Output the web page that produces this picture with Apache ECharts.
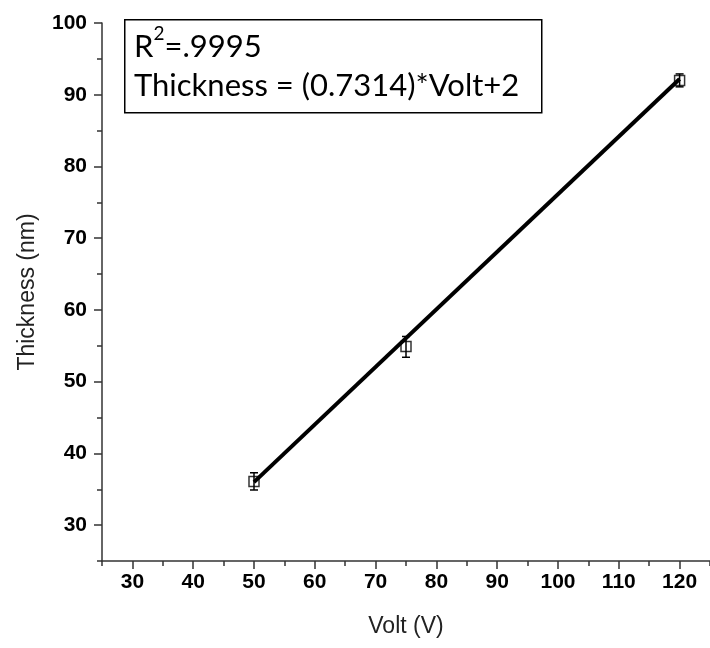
<!DOCTYPE html>
<html>
<head>
<meta charset="utf-8">
<script src="https://cdn.jsdelivr.net/npm/echarts@6/dist/echarts.min.js"></script>
<style>
html,body{margin:0;padding:0;background:#fff;}
#chart{width:710px;height:648px;}
</style>
</head>
<body>
<div id="chart"></div>
<script>
// ---- data ----
const xTicks = [30, 40, 50, 60, 70, 80, 90, 100, 110, 120];
const xMinorTicks = [25, 35, 45, 55, 65, 75, 85, 95, 105, 115, 125];
const yTicks = [30, 40, 50, 60, 70, 80, 90, 100];
const yMinorTicks = [25, 35, 45, 55, 65, 75, 85, 95];
const voltage = [50, 75, 120];
const thickness = [36.1, 54.9, 92.0];
const errLow = [34.9, 53.4, 91.1];
const errHigh = [37.3, 56.3, 92.9];
const fitVolt = [50, 120];
const fitThickness = [36.0, 92.2];
const annotLine1 = ['R', '2', '=.9995'];
const annotLine2 = 'Thickness = (0.7314)*Volt+2';

const chart = echarts.init(document.getElementById('chart'), null, {renderer: 'canvas'});
const axisColor = '#333';
const tickFont = {fontFamily: 'Liberation Sans', fontWeight: 'bold', fontSize: 21, color: '#000'};
const nameFont = {fontFamily: 'Liberation Sans', fontSize: 23, color: '#222'};

const scatterData = voltage.map((v, i) => [v, thickness[i]]);
const errData = voltage.map((v, i) => [v, errLow[i], errHigh[i]]);
const fitData = fitVolt.map((v, i) => [v, fitThickness[i]]);

chart.setOption({
  animation: false,
  backgroundColor: '#fff',
  grid: {left: 102, top: 23, right: -7, bottom: 87, containLabel: false},
  xAxis: [{
    type: 'value', min: 25, max: 125,
    name: 'Volt (V)', nameLocation: 'middle', nameGap: 54, nameTextStyle: nameFont,
    axisLine: {show: true, onZero: false, lineStyle: {color: axisColor, width: 1.5}},
    axisTick: {show: true, inside: false, length: 8, customValues: xTicks, lineStyle: {color: axisColor, width: 1.5}},
    axisLabel: {show: true, margin: 11, customValues: xTicks, ...tickFont},
    splitLine: {show: false}
  }, {
    type: 'value', min: 25, max: 125, position: 'bottom',
    axisLine: {show: false},
    axisTick: {show: true, inside: false, length: 5, customValues: xMinorTicks, lineStyle: {color: axisColor, width: 1.5}},
    axisLabel: {show: false},
    splitLine: {show: false}
  }],
  yAxis: [{
    type: 'value', min: 25, max: 100,
    name: 'Thickness (nm)', nameLocation: 'middle', nameGap: 63, nameTextStyle: nameFont,
    axisLine: {show: true, onZero: false, lineStyle: {color: axisColor, width: 1.5}},
    axisTick: {show: true, inside: false, length: 8, customValues: yTicks, lineStyle: {color: axisColor, width: 1.5}},
    axisLabel: {show: true, margin: 15, customValues: yTicks, ...tickFont},
    splitLine: {show: false}
  }, {
    type: 'value', min: 25, max: 100, position: 'left',
    axisLine: {show: false},
    axisTick: {show: true, inside: false, length: 5, customValues: yMinorTicks, lineStyle: {color: axisColor, width: 1.5}},
    axisLabel: {show: false},
    splitLine: {show: false}
  }],
  series: [{
    type: 'line', data: fitData, symbol: 'none',
    lineStyle: {color: '#000', width: 4}, z: 2
  }, {
    type: 'custom', data: errData, z: 3,
    renderItem: function (params, api) {
      const x = api.value(0);
      const lo = api.coord([x, api.value(1)]);
      const hi = api.coord([x, api.value(2)]);
      const cap = 4;
      const style = {stroke: '#000', lineWidth: 1.5, fill: null};
      return {type: 'group', children: [
        {type: 'line', shape: {x1: lo[0], y1: lo[1], x2: hi[0], y2: hi[1]}, style: style},
        {type: 'line', shape: {x1: lo[0] - cap, y1: lo[1], x2: lo[0] + cap, y2: lo[1]}, style: style},
        {type: 'line', shape: {x1: hi[0] - cap, y1: hi[1], x2: hi[0] + cap, y2: hi[1]}, style: style}
      ]};
    }
  }, {
    type: 'scatter', data: scatterData, symbol: 'rect', symbolSize: 10, z: 4,
    itemStyle: {color: 'rgba(255,255,255,0)', borderColor: '#000', borderWidth: 1.5}
  }],
  graphic: [{
    type: 'rect', left: 124, top: 19, z: 10,
    shape: {width: 417, height: 93},
    style: {fill: '#fff', stroke: '#000', lineWidth: 1.5}
  }, {
    type: 'text', left: 134, top: 24, z: 11,
    style: {
      text: '{b|' + annotLine1[0] + '}{s|' + annotLine1[1] + '}{b|' + annotLine1[2] + '}',
      rich: {
        b: {fontFamily: 'Lato', fontSize: 31, fill: '#000', verticalAlign: 'bottom', lineHeight: 38},
        s: {fontFamily: 'Lato', fontSize: 19, fill: '#000', verticalAlign: 'top', lineHeight: 38, padding: [0, 0, 15, 0]}
      }
    }
  }, {
    type: 'text', left: 134, top: 70, z: 11,
    style: {text: annotLine2, fontFamily: 'Lato', fontSize: 31, fill: '#000'}
  }]
});
</script>
</body>
</html>
